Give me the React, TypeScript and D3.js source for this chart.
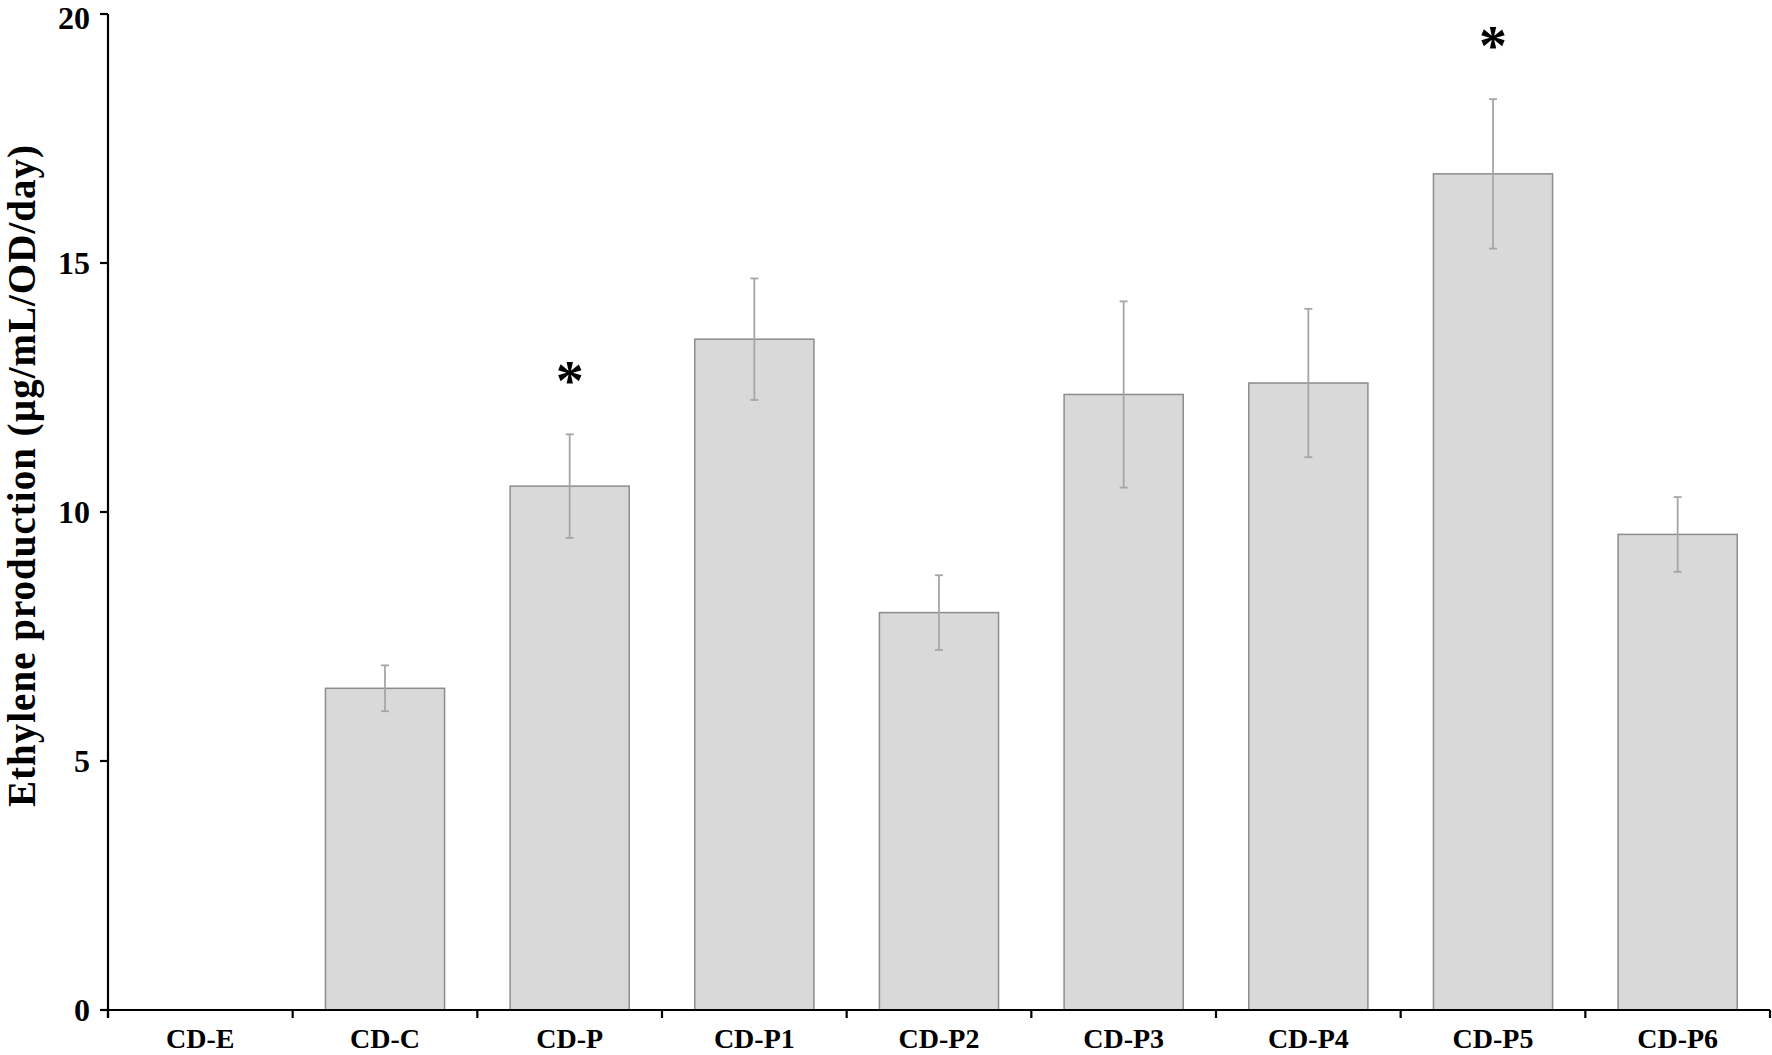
import React from "react";
import * as d3 from "d3";

const categories = ["CD-E", "CD-C", "CD-P", "CD-P1", "CD-P2", "CD-P3", "CD-P4", "CD-P5", "CD-P6"];
const values = [0, 6.46, 10.52, 13.47, 7.98, 12.36, 12.59, 16.79, 9.55];
const errors = [0, 0.46, 1.04, 1.22, 0.75, 1.87, 1.49, 1.5, 0.75];
const significant = [false, false, true, false, false, false, false, true, false];
const yTicks = [0, 5, 10, 15, 20];

export default function App() {
  const W = 1772, H = 1055;
  const left = 108, right = 1770, top = 14, bottom = 1010;
  const x = d3.scaleBand<string>().domain(categories).range([left, right]).paddingInner(0.355).paddingOuter(0.1775);
  const step = (right - left) / categories.length;
  const y = d3.scaleLinear().domain([0, 20]).range([bottom, top]);
  const font = "'Liberation Serif', 'Times New Roman', serif";
  const tickFs = 32;
  return (
    <svg width={W} height={H} style={{ position: "absolute", left: 0, top: 0, background: "#fff" }}>
      {categories.map((c, i) => {
        if (values[i] <= 0) return null;
        const bx = x(c)!;
        const bw = x.bandwidth();
        const cx = bx + bw / 2;
        return (
          <g key={c}>
            <rect x={bx} y={y(values[i])} width={bw} height={bottom - y(values[i])} fill="#d9d9d9" stroke="#8c8c8c" strokeWidth={1.5} />
            <line x1={cx} x2={cx} y1={y(values[i] + errors[i])} y2={y(values[i] - errors[i])} stroke="#a6a6a6" strokeWidth={1.8} />
            <line x1={cx - 4} x2={cx + 4} y1={y(values[i] + errors[i])} y2={y(values[i] + errors[i])} stroke="#a6a6a6" strokeWidth={1.8} />
            <line x1={cx - 4} x2={cx + 4} y1={y(values[i] - errors[i])} y2={y(values[i] - errors[i])} stroke="#a6a6a6" strokeWidth={1.8} />
            {significant[i] && (
              <text x={cx} y={y(values[i] + errors[i]) - 34} textAnchor="middle" fontFamily={font} fontWeight="bold" fontSize={56} fill="#000">*</text>
            )}
          </g>
        );
      })}
      {/* axes */}
      <line x1={left} x2={left} y1={top} y2={bottom + 7} stroke="#000" strokeWidth={2.2} />
      <line x1={left} x2={right} y1={bottom} y2={bottom} stroke="#000" strokeWidth={2.2} />
      {yTicks.map((t) => (
        <g key={t}>
          <line x1={left - 8} x2={left} y1={y(t)} y2={y(t)} stroke="#000" strokeWidth={2.2} />
          <text x={left - 18} y={Math.max(y(t) + 0.35 * tickFs, 0.9 * tickFs)} textAnchor="end" fontFamily={font} fontWeight="bold" fontSize={tickFs}>{t}</text>
        </g>
      ))}
      {d3.range(categories.length + 1).map((k) => (
        <line key={k} x1={left + k * step} x2={left + k * step} y1={bottom} y2={bottom + 8} stroke="#000" strokeWidth={2.2} />
      ))}
      {categories.map((c) => (
        <text key={c} x={x(c)! + x.bandwidth() / 2} y={1048} textAnchor="middle" fontFamily={font} fontWeight="bold" fontSize={28}>{c}</text>
      ))}
      <text transform={`translate(35, 476) rotate(-90)`} textAnchor="middle" fontFamily={font} fontWeight="bold" fontSize={39} textLength={662} lengthAdjust="spacing">Ethylene production (µg/mL/OD/day)</text>
    </svg>
  );
}
